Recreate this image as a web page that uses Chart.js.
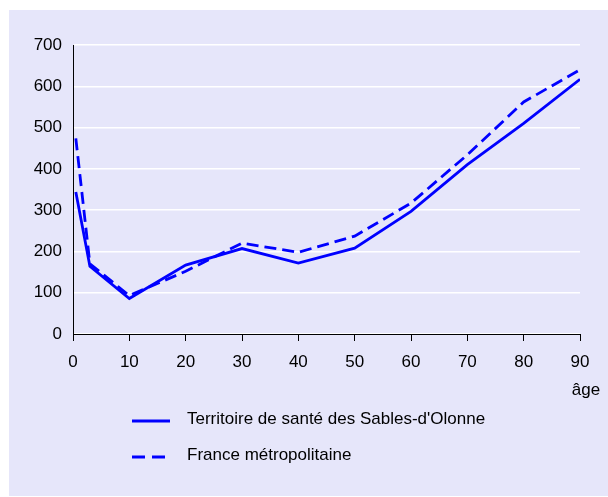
<!DOCTYPE html>
<html>
<head>
<meta charset="utf-8">
<script src="https://cdn.jsdelivr.net/npm/chart.js@4/dist/chart.umd.min.js"></script>
<style>
  html, body { margin: 0; padding: 0; background: #ffffff; }
  #wrap { position: relative; width: 608px; height: 497px; }
</style>
</head>
<body>
<div id="wrap"><canvas id="chart" width="608" height="497"></canvas></div>
<script>
// ========================================
// Data
// ========================================

// Ages (x positions); first point sits just right of 0
const ages = [0.5, 3, 10, 20, 30, 40, 50, 60, 70, 80, 90];

// Territoire de santé des Sables-d'Olonne (solid)
const sablesValues = [344, 164, 86, 167, 207, 172, 208, 297, 410, 510, 617];

// France métropolitaine (dashed)
const franceValues = [474, 170, 93, 152, 220, 198, 237, 317, 434, 562, 640];

const seriesLabels = ["Territoire de santé des Sables-d'Olonne", 'France métropolitaine'];
const xAxisTitle = 'âge';

const FONT = '"Liberation Sans", Arial, sans-serif';
const FONT_SIZE = 17;
const LINE_COLOR = '#0000ff';
const PANEL_COLOR = '#e6e6fa';
const DASH = [12, 6];

function toPoints(values) {
    return values.map((v, i) => ({ x: ages[i], y: v }));
}

// Lavender panel behind everything
const panelPlugin = {
    id: 'panel',
    beforeDraw(chart) {
        const ctx = chart.ctx;
        ctx.save();
        ctx.fillStyle = '#ffffff';
        ctx.fillRect(0, 0, chart.width, chart.height);
        ctx.fillStyle = PANEL_COLOR;
        ctx.fillRect(9, 10, chart.width - 9, chart.height - 11);
        ctx.restore();
    }
};

// "âge" label and the stacked legend under the plot
const extrasPlugin = {
    id: 'extras',
    afterDraw(chart) {
        const ctx = chart.ctx;
        ctx.save();
        ctx.fillStyle = '#000000';
        ctx.font = FONT_SIZE + 'px ' + FONT;
        ctx.textBaseline = 'alphabetic';
        ctx.textAlign = 'center';
        ctx.fillText(xAxisTitle, 586, 395);

        // legend
        const rows = [
            { y: 421, dash: [], text: seriesLabels[0] },
            { y: 457, dash: [13, 7], text: seriesLabels[1] }
        ];
        rows.forEach(r => {
            ctx.strokeStyle = LINE_COLOR;
            ctx.lineWidth = 2.8;
            ctx.setLineDash(r.dash);
            ctx.beginPath();
            ctx.moveTo(132, r.y);
            ctx.lineTo(170, r.y);
            ctx.stroke();
            ctx.setLineDash([]);
            ctx.textAlign = 'left';
            ctx.fillText(r.text, 187, r.y + 3);
        });
        ctx.restore();
    }
};

const ctx = document.getElementById('chart').getContext('2d');
new Chart(ctx, {
    type: 'line',
    data: {
        datasets: [{
            label: seriesLabels[0],
            data: toPoints(sablesValues),
            borderColor: LINE_COLOR,
            borderWidth: 2.8,
            pointRadius: 0,
            tension: 0,
            fill: false
        }, {
            label: seriesLabels[1],
            data: toPoints(franceValues),
            borderColor: LINE_COLOR,
            borderWidth: 2.8,
            borderDash: DASH,
            pointRadius: 0,
            tension: 0,
            fill: false
        }]
    },
    options: {
        responsive: false,
        animation: false,
        layout: { padding: { left: 0, right: 28, top: 45, bottom: 0 } },
        plugins: {
            legend: { display: false },
            tooltip: { enabled: false },
            title: { display: false }
        },
        scales: {
            x: {
                type: 'linear',
                min: 0,
                max: 90,
                afterFit: scale => { scale.height = 163; },
                ticks: {
                    stepSize: 10,
                    color: '#000000',
                    padding: 11,
                    maxRotation: 0,
                    font: { family: FONT, size: FONT_SIZE }
                },
                grid: {
                    drawOnChartArea: false,
                    drawTicks: true,
                    tickLength: 7,
                    color: '#000000'
                },
                border: { display: true, color: '#000000', width: 1 }
            },
            y: {
                min: 0,
                max: 700,
                afterFit: scale => { scale.width = 73; },
                ticks: {
                    stepSize: 100,
                    color: '#000000',
                    padding: 11,
                    font: { family: FONT, size: FONT_SIZE }
                },
                grid: {
                    color: '#ffffff',
                    lineWidth: 1.5,
                    drawTicks: false
                },
                border: { display: true, color: '#000000', width: 1 }
            }
        }
    },
    plugins: [panelPlugin, extrasPlugin]
});
</script>
</body>
</html>
